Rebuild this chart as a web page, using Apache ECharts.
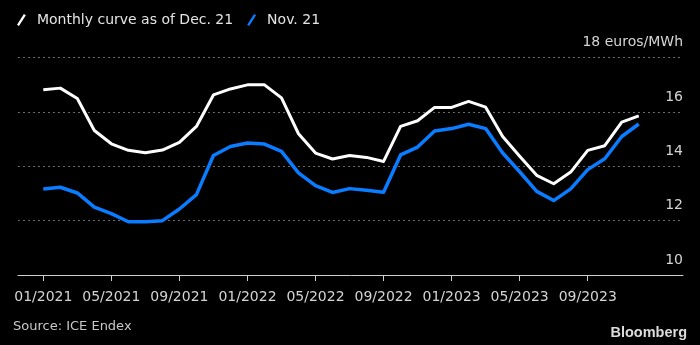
<!DOCTYPE html>
<html>
<head>
<meta charset="utf-8">
<style>
  html, body { margin: 0; padding: 0; background: #000; }
  #chart { width: 700px; height: 345px; }
</style>
<script src="https://cdn.jsdelivr.net/npm/echarts@6/dist/echarts.min.js"></script>
</head>
<body>
<div id="chart"></div>
<script>
// Delivery months of the forward curve
const months = [
  '01/2021','02/2021','03/2021','04/2021','05/2021','06/2021','07/2021','08/2021','09/2021','10/2021','11/2021','12/2021',
  '01/2022','02/2022','03/2022','04/2022','05/2022','06/2022','07/2022','08/2022','09/2022','10/2022','11/2022','12/2022',
  '01/2023','02/2023','03/2023','04/2023','05/2023','06/2023','07/2023','08/2023','09/2023','10/2023','11/2023','12/2023'
];

// Monthly curve as of Dec. 21 (euros/MWh)
const curveDec21 = [
  16.82, 16.88, 16.50, 15.32, 14.83, 14.59, 14.50, 14.60, 14.88, 15.47, 16.63, 16.85,
  17.00, 17.00, 16.52, 15.20, 14.49, 14.27, 14.40, 14.33, 14.18, 15.47, 15.68, 16.17,
  16.17, 16.39, 16.18, 15.10, 14.37, 13.67, 13.36, 13.79, 14.59, 14.76, 15.63, 15.86
];

// Monthly curve as of Nov. 21 (euros/MWh)
const curveNov21 = [
  13.17, 13.23, 13.02, 12.50, 12.26, 11.96, 11.96, 12.00, 12.43, 12.96, 14.40, 14.73,
  14.86, 14.82, 14.55, 13.76, 13.29, 13.04, 13.18, 13.12, 13.05, 14.42, 14.71, 15.30,
  15.39, 15.55, 15.39, 14.49, 13.80, 13.08, 12.74, 13.17, 13.88, 14.28, 15.10, 15.56
];

// Months that carry an axis label
const labelledMonths = ['01/2021','05/2021','09/2021','01/2022','05/2022','09/2022','01/2023','05/2023','09/2023'];

const seriesNames = ['Monthly curve as of Dec. 21', 'Nov. 21'];
const unitLabel = 'euros/MWh';
const sourceText = 'Source: ICE Endex';

const labelIdx = labelledMonths.map(m => months.indexOf(m));
const toPoints = arr => arr.map((v, i) => [i, v]);

const FONT = '"DejaVu Sans", sans-serif';
const slashIcon = 'path://M0,11 L7,0 L9,1.2 L2,12.2 Z';

const chart = echarts.init(document.getElementById('chart'), null, { renderer: 'canvas' });

chart.setOption({
  backgroundColor: '#000000',
  animation: false,
  legend: {
    left: 12,
    top: 8,
    itemWidth: 9,
    itemHeight: 12,
    itemGap: 14,
    icon: slashIcon,
    textStyle: { color: '#e4e4e4', fontFamily: FONT, fontSize: 14, padding: [0, 0, 0, 6] },
    data: [
      { name: seriesNames[0], itemStyle: { color: '#ffffff' } },
      { name: seriesNames[1], itemStyle: { color: '#0a7cff' } }
    ]
  },
  grid: { left: 18, right: 17, top: 57.7, bottom: 70, containLabel: false },
  xAxis: {
    type: 'value',
    min: -1.487,
    max: 37.6,
    axisLine: { show: true, lineStyle: { color: '#cfcfcf', width: 1 } },
    axisTick: { show: true, customValues: labelIdx, length: 6, lineStyle: { color: '#cfcfcf' } },
    axisLabel: {
      customValues: labelIdx,
      formatter: v => months[Math.round(v)],
      color: '#d4d4d4',
      fontFamily: FONT,
      fontSize: 14,
      margin: 15
    },
    splitLine: { show: false }
  },
  yAxis: {
    type: 'value',
    position: 'right',
    min: 10,
    max: 18,
    interval: 2,
    axisLine: { show: false },
    axisTick: { show: false },
    axisLabel: {
      inside: true,
      margin: 0,
      align: 'right',
      verticalAlign: 'bottom',
      lineHeight: 30,
      color: '#d4d4d4',
      fontFamily: FONT,
      fontSize: 14,
      formatter: v => (v === 18 ? '18 ' + unitLabel : String(v))
    },
    splitLine: { show: true, lineStyle: { color: '#6a6a6a', type: [2, 3], width: 1 } }
  },
  series: [
    {
      name: seriesNames[1],
      type: 'line',
      data: toPoints(curveNov21),
      symbol: 'none',
      color: '#0a7cff',
      lineStyle: { color: '#0a7cff', width: 3.5, join: 'round' },
      z: 2
    },
    {
      name: seriesNames[0],
      type: 'line',
      data: toPoints(curveDec21),
      symbol: 'none',
      color: '#ffffff',
      lineStyle: { color: '#ffffff', width: 3, join: 'round' },
      z: 3
    }
  ],
  graphic: [
    {
      type: 'text',
      left: 13,
      top: 320,
      style: { text: sourceText, fill: '#c8c8c8', font: '13px ' + FONT }
    },
    {
      type: 'text',
      right: 13,
      top: 325,
      style: { text: 'Bloomberg', fill: '#dcdcdc', font: 'bold 14.5px "Liberation Sans", Arial, sans-serif' }
    }
  ]
});
</script>
</body>
</html>
